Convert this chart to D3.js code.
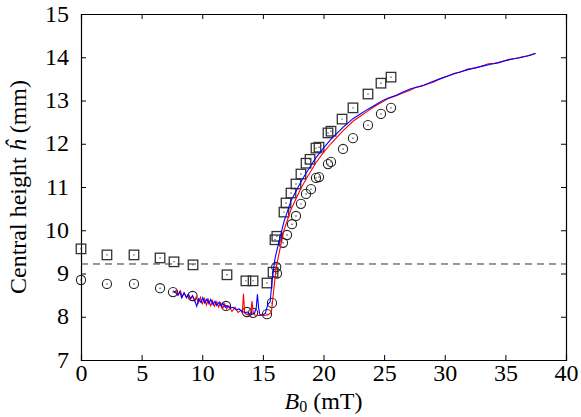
<!DOCTYPE html>
<html lang="en">
<head>
    <meta charset="UTF-8">
    <title>Central height vs B0</title>
    <script src="https://cdn.jsdelivr.net/npm/d3@7"></script>
    <style>
        body { margin: 0; background: #fff; }
        text { font-family: "Liberation Serif", "Times New Roman", serif; fill: #000; }
    </style>
</head>
<body>
    <div class="chart"></div>
    <script>
        // squares (upper experimental set)
        const squareB = [0, 2.14, 4.37, 6.52, 7.67, 9.24, 12.04, 13.6, 14.19, 15.34, 15.84, 16.0, 16.15,
            16.74, 16.91, 17.32, 17.73, 18.14, 18.56, 18.89, 19.38, 19.63, 20.37, 20.62, 21.53, 22.43, 23.67, 24.74, 25.57];
        const squareH = [9.57, 9.43, 9.43, 9.36, 9.27, 9.2, 8.97, 8.83, 8.83, 8.78, 9.03, 9.78, 9.86,
            10.42, 10.63, 10.86, 11.07, 11.3, 11.55, 11.64, 11.9, 11.92, 12.25, 12.29, 12.57, 12.83, 13.15, 13.4, 13.54];

        // circles (lower experimental set)
        const circleB = [0, 2.14, 4.37, 6.52, 7.59, 9.2, 11.96, 13.69, 14.19, 15.34, 15.75, 16.1, 16.16,
            16.66, 16.99, 17.4, 17.73, 18.14, 18.56, 18.97, 19.38, 19.63, 20.37, 20.62, 21.61, 22.43, 23.67, 24.74, 25.57];
        const circleH = [8.85, 8.76, 8.76, 8.66, 8.57, 8.48, 8.25, 8.11, 8.09, 8.06, 8.32, 9.15, 9.0,
            9.71, 9.89, 10.14, 10.33, 10.61, 10.84, 10.95, 11.21, 11.23, 11.53, 11.58, 11.88, 12.13, 12.43, 12.69, 12.83];

        // blue simulation curve
        const blueB = [7.6, 7.8, 8.0, 8.15, 8.3, 8.5, 8.7, 8.85, 9.05, 9.2, 9.35, 9.55, 9.7, 9.9, 10.05, 10.2, 10.4,
            10.55, 10.7, 10.9, 11.05, 11.2, 11.4, 11.55, 11.7, 11.9, 12.05, 12.3, 12.55, 12.8, 13.05, 13.3, 13.55,
            13.8, 14.05, 14.3, 14.45, 14.55, 14.65, 14.75, 15.0, 15.2,
            15.4, 15.6, 15.75, 16.0, 16.3, 16.74, 17.32, 18.14, 18.7, 19.38, 20.0, 20.6, 21.6, 22.43, 23.0, 23.67,
            24.3, 24.74, 25.3, 26, 26.6, 27.2, 27.8, 28.3, 29, 29.6, 30.2, 30.8, 31.4, 32, 32.6, 33.2, 33.8, 34.4,
            35, 35.6, 36.2, 36.8, 37.5];
        const blueH = [8.6, 8.56, 8.5, 8.58, 8.44, 8.55, 8.45, 8.52, 8.42, 8.48, 8.4, 8.24, 8.42, 8.33, 8.44, 8.32,
            8.41, 8.3, 8.4, 8.28, 8.36, 8.26, 8.34, 8.25, 8.31, 8.22, 8.26, 8.2, 8.22, 8.16, 8.18, 8.12, 8.1,
            8.08, 8.05, 8.08, 8.2, 8.52, 8.2, 8.05, 8.04, 8.08,
            8.28, 8.35, 8.8, 9.35, 9.7, 10.2, 10.68, 11.12, 11.38, 11.68, 11.9, 12.1, 12.38, 12.58, 12.68, 12.8,
            12.9, 12.98, 13.05, 13.12, 13.2, 13.27, 13.32, 13.36, 13.44, 13.5, 13.56, 13.62, 13.67, 13.72, 13.76, 13.8, 13.84, 13.87,
            13.92, 13.96, 13.99, 14.03, 14.09];

        // red simulation curve
        const redB = [7.7, 7.85, 8.0, 8.2, 8.35, 8.5, 8.7, 8.85, 9.0, 9.2, 9.35, 9.5, 9.7, 9.85, 10.0, 10.2, 10.35,
            10.5, 10.7, 10.85, 11.0, 11.2, 11.35, 11.5, 11.7, 11.85, 12.0, 12.2, 12.45, 12.7, 12.95, 13.2, 13.3,
            13.4, 13.5, 13.6, 13.85, 14.0, 14.1, 14.2, 14.3, 14.6, 15.0, 15.4, 15.7,
            15.85, 16.1, 16.4, 16.74, 17.32, 18.14, 18.7, 19.38, 20.0, 20.6, 21.6, 22.43, 23.0, 23.67, 24.3, 24.74,
            25.3, 26, 26.6, 27.2, 27.6, 28.1, 28.6, 29.1, 29.6, 30.3, 30.8, 31.3, 31.9, 32.5, 33, 33.6, 34.1, 34.7,
            35.3, 35.8, 36.4, 37, 37.4];
        const redH = [8.55, 8.62, 8.5, 8.6, 8.46, 8.56, 8.44, 8.52, 8.4, 8.49, 8.36, 8.46, 8.32, 8.45, 8.3, 8.42,
            8.27, 8.4, 8.25, 8.37, 8.24, 8.35, 8.22, 8.32, 8.2, 8.3, 8.18, 8.25, 8.12, 8.22, 8.1, 8.15, 8.08,
            8.53, 8.08, 8.06, 8.04, 8.1, 8.36, 8.1, 8.04, 8.03, 8.03, 8.04, 8.1,
            8.5, 9.15, 9.55, 10.0, 10.48, 10.97, 11.25, 11.56, 11.8, 12.0, 12.3, 12.52, 12.63, 12.76, 12.88, 12.95,
            13.04, 13.11, 13.18, 13.24, 13.3, 13.33, 13.38, 13.43, 13.5, 13.57, 13.63, 13.66, 13.73, 13.75, 13.79, 13.85, 13.86, 13.9,
            13.95, 13.97, 14.01, 14.04, 14.08];

        const dashedH = 9.22;
        const xTicks = [0, 5, 10, 15, 20, 25, 30, 35, 40];
        const yTicks = [7, 8, 9, 10, 11, 12, 13, 14, 15];

        const width = 581;
        const height = 417;
        const margin = { top: 14, right: 15, bottom: 57, left: 81 };

        const x = d3.scaleLinear().domain([0, 40]).range([margin.left, width - margin.right]);
        const y = d3.scaleLinear().domain([7, 15]).range([height - margin.bottom, margin.top]);

        const svg = d3.select('.chart')
            .append('svg')
            .attr('width', width)
            .attr('height', height);

        const tickLen = 5;

        // axes with inward ticks
        svg.append('g')
            .attr('transform', `translate(0,${y(7)})`)
            .call(d3.axisBottom(x).tickValues(xTicks).tickSize(-tickLen).tickPadding(4).tickFormat(d3.format('d')))
            .call(g => g.selectAll('text').attr('font-size', 24).attr('dy', '0.71em'));
        svg.append('g')
            .attr('transform', `translate(0,${y(15)})`)
            .call(d3.axisTop(x).tickValues(xTicks).tickSize(-tickLen).tickFormat(''));
        svg.append('g')
            .attr('transform', `translate(${x(0)},0)`)
            .call(d3.axisLeft(y).tickValues(yTicks).tickSize(-tickLen).tickPadding(12).tickFormat(d3.format('d')))
            .call(g => g.selectAll('text').attr('font-size', 24).attr('dy', '0.3em'));
        svg.append('g')
            .attr('transform', `translate(${x(40)},0)`)
            .call(d3.axisRight(y).tickValues(yTicks).tickSize(-tickLen).tickFormat(''));

        svg.selectAll('.domain').attr('stroke', '#000').attr('stroke-width', 1.2);
        svg.selectAll('.tick line').attr('stroke', '#000');
        svg.selectAll('.tick text').attr('fill', '#000');

        // dashed reference
        svg.append('line')
            .attr('x1', x(0)).attr('x2', x(40))
            .attr('y1', y(dashedH)).attr('y2', y(dashedH))
            .attr('stroke', '#333').attr('stroke-width', 1)
            .attr('stroke-dasharray', '7,5');

        // markers
        const sq = d3.range(squareB.length);
        const s = 9.5;
        svg.append('g').selectAll('rect')
            .data(sq).enter().append('rect')
            .attr('x', i => x(squareB[i]) - s / 2)
            .attr('y', i => y(squareH[i]) - s / 2)
            .attr('width', s).attr('height', s)
            .attr('fill', 'none').attr('stroke', '#333').attr('stroke-width', 1.3);
        svg.append('g').selectAll('circle')
            .data(sq).enter().append('circle')
            .attr('cx', i => x(squareB[i]))
            .attr('cy', i => y(squareH[i]))
            .attr('r', 0.7).attr('fill', '#333');

        const ci = d3.range(circleB.length);
        svg.append('g').selectAll('circle')
            .data(ci).enter().append('circle')
            .attr('cx', i => x(circleB[i]))
            .attr('cy', i => y(circleH[i]))
            .attr('r', 4.6)
            .attr('fill', 'none').attr('stroke', '#222').attr('stroke-width', 1.1);
        svg.append('g').selectAll('circle')
            .data(ci).enter().append('circle')
            .attr('cx', i => x(circleB[i]))
            .attr('cy', i => y(circleH[i]))
            .attr('r', 0.7).attr('fill', '#222');

        // simulation curves
        const line = d3.line().x(d => x(d[0])).y(d => y(d[1]));
        svg.append('path')
            .datum(d3.zip(redB, redH))
            .attr('d', line)
            .attr('fill', 'none').attr('stroke', '#ff0000').attr('stroke-width', 1.1);
        svg.append('path')
            .datum(d3.zip(blueB, blueH))
            .attr('d', line)
            .attr('fill', 'none').attr('stroke', '#0000ff').attr('stroke-width', 1.1);

        // axis labels
        const xl = svg.append('text')
            .attr('x', x(20)).attr('y', 409)
            .attr('text-anchor', 'middle')
            .attr('font-size', 24);
        xl.append('tspan').attr('font-style', 'italic').text('B');
        xl.append('tspan').attr('font-size', 16).attr('dy', 3).text('0');
        xl.append('tspan').attr('dy', -3).text(' (mT)');

        const yl = svg.append('text')
            .attr('transform', `translate(26,${y(11)}) rotate(-90)`)
            .attr('text-anchor', 'middle')
            .attr('font-size', 24);
        yl.append('tspan').text('Central height ');
        yl.append('tspan').attr('font-style', 'italic').text('ĥ');
        yl.append('tspan').text(' (mm)');
    </script>
</body>
</html>
